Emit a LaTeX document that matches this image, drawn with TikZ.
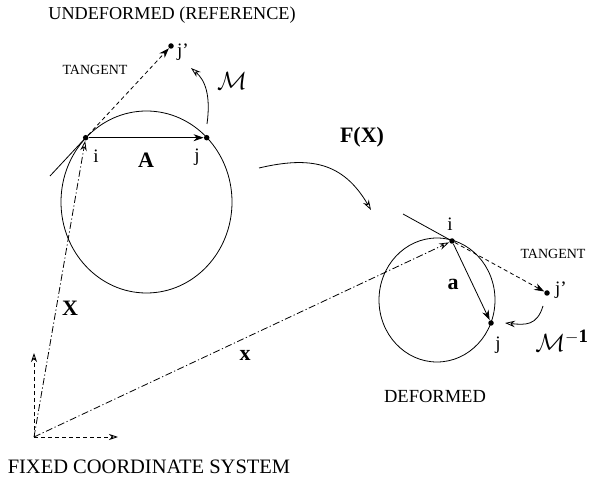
\documentclass[tikz,border=0pt]{standalone}
\usepackage{fontspec}
\setmainfont{Liberation Serif}
\usetikzlibrary{arrows.meta,shapes.geometric}
\begin{document}
\begin{tikzpicture}[x=1pt,y=-1pt,
  line width=0.8pt,
  dot/.style={circle,fill=black,inner sep=0pt,minimum size=5.5pt},
  small/.style={inner sep=0pt,font=\fontsize{14}{17}\selectfont},
  titlefont/.style={inner sep=0pt,font=\fontsize{18.2}{22}\selectfont},
  lett/.style={inner sep=0pt,font=\fontsize{19}{22}\selectfont},
  bvec/.style={inner sep=0pt,font=\fontsize{22}{24}\selectfont\bfseries},
  calfont/.style={inner sep=0pt,font=\fontsize{27}{30}\selectfont},
  filledtip/.style={-{Stealth[length=10pt,width=7pt]}},
  opentip/.style={-{Stealth[open,length=10pt,width=6.5pt]}},
  dashline/.style={dash pattern=on 4pt off 3pt},
  dashdot/.style={dash pattern=on 7pt off 2.5pt on 1.2pt off 2.5pt},
  circ/.style={draw,ellipse,inner sep=0pt}
]
\useasboundingbox (0,0) rectangle (590,484);

% circles
\node[circ,minimum width=171pt,minimum height=182pt] (C1) at (146.5,202) {};
\node[circ,minimum width=116pt,minimum height=124pt] (C2) at (437,300) {};

% points
\node[dot] (i1) at (85.7,137.7) {};
\node[dot] (j1) at (206.7,137.7) {};
\node[dot] (jp1) at (171,46) {};
\node[dot] (i2) at (452,241) {};
\node[dot] (j2) at (491,323) {};
\node[dot] (jp2) at (547,293) {};
\coordinate (O) at (34,437);
\coordinate (Oy) at (34,353);
\coordinate (Ox) at (118,437);
\coordinate (t1) at (50,176);
\coordinate (t2) at (403,214);
\coordinate (m1s) at (207,124);
\coordinate (m1e) at (191,68);
\coordinate (fs) at (259,168);
\coordinate (fe) at (371,210);
\coordinate (m2s) at (543,306);
\coordinate (m2e) at (505,323);

% tangents
\draw (t1) -- (i1.center);
\draw[dashline,filledtip] (i1) -- (jp1);
\draw (t2) -- (i2.center);
\draw[dashline,filledtip] (i2) -- (jp2);

% chord vectors
\draw[filledtip] (i1) -- (j1);
\draw[filledtip] (i2) -- (j2);

% maps
\draw[opentip] (m1s) .. controls (211,95) and (205,80) .. (m1e);
\draw[opentip] (fs) .. controls (310,156) and (343,162) .. (fe);
\draw[opentip] (m2s) .. controls (537,326) and (525,325) .. (m2e);

% position vectors
\draw[dashdot,opentip] (O) -- (i1);
\draw[dashdot,opentip] (O) -- (i2);

% axes
\draw[dashline,-{Stealth[open,length=9pt,width=6pt]}] (O) -- (Oy);
\draw[dashline,-{Stealth[open,length=9pt,width=6pt]}] (O) -- (Ox);

% labels
\node[titlefont] (tU) at (172,15) {UNDEFORMED (REFERENCE)};
\node[small] (tT1) at (95,70) {TANGENT};
\node[lett] (li1) at (96,156) {i};
\node[bvec] (lA) at (146,160) {A};
\node[lett] (lj1) at (197,157) {j};
\node[lett] (ljp1) at (183,52) {j'};
\node[calfont] (lM) at (232,81) {$\mathcal{M}$};
\node[bvec] (lF) at (362,137) {F(X)};
\node[lett] (li2) at (450,224) {i};
\node[bvec] (la) at (453,284) {a};
\node[lett] (lj2) at (498,345) {j};
\node[lett] (ljp2) at (561,290) {j'};
\node[small] (tT2) at (553,254) {TANGENT};
\node[calfont] (lMi) at (562,341) {$\mathcal{M}^{\mathbf{-1}}$};
\node[bvec] (lX) at (70,308) {X};
\node[bvec] (lx) at (245,355) {x};
\node[inner sep=0pt,font=\fontsize{18.5}{22}\selectfont] (tD) at (435,396) {DEFORMED};
\node[inner sep=0pt,font=\fontsize{20.5}{24}\selectfont] (tF) at (149,467) {FIXED COORDINATE SYSTEM};
\end{tikzpicture}
\end{document}
